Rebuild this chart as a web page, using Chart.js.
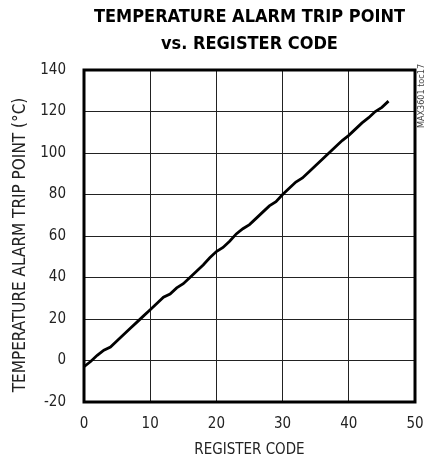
<!DOCTYPE html>
<html>
<head>
<meta charset="utf-8">
<script src="https://cdn.jsdelivr.net/npm/chart.js@4"></script>
<style>
  html, body { margin: 0; padding: 0; background: #fff; }
  #wrap { width: 426px; height: 464px; position: relative; }
</style>
</head>
<body>
<div id="wrap"><canvas id="chart-trip"></canvas></div>
<script>
// Temperature alarm trip point vs register code

const registerCodes = [
  0, 1, 2, 3, 4, 5, 6, 7, 8, 9,
  10, 11, 12, 13, 14, 15, 16, 17, 18, 19,
  20, 21, 22, 23, 24, 25, 26, 27, 28, 29,
  30, 31, 32, 33, 34, 35, 36, 37, 38, 39,
  40, 41, 42, 43, 44, 45, 46
];
const tripPoint = [
  -3, -0.5, 2.5, 5, 6.5, 9.5, 12.5, 15.5, 18.5, 21.5,
  24.5, 27.5, 30.5, 32, 35, 37, 40, 43, 46, 49.5,
  52.5, 54.5, 57.5, 61, 63.5, 65.5, 68.5, 71.5, 74.5, 76.5,
  80, 83, 86, 88, 91, 94, 97, 100, 103, 106,
  108.5, 111.5, 114.5, 117, 120, 122, 125
];
const xTicks = [0, 10, 20, 30, 40, 50];
const yTicks = [-20, 0, 20, 40, 60, 80, 100, 120, 140];
const yTitle = 'TEMPERATURE ALARM TRIP POINT (°C)';

const FONT = "'Liberation Sans Narrow', 'DejaVu Sans Condensed', sans-serif";

// heavy frame round the plot, y title, small figure code on the right edge
const framePlugin = {
  id: 'frame',
  afterDraw(chart) {
    const { ctx, chartArea: a } = chart;
    ctx.save();
    ctx.strokeStyle = '#000';
    ctx.lineWidth = 3;
    ctx.strokeRect(a.left, a.top, a.right - a.left, a.bottom - a.top);
    ctx.restore();

    ctx.save();
    ctx.translate(21, 245);
    ctx.rotate(-Math.PI / 2);
    ctx.fillStyle = '#222';
    ctx.font = "17px " + FONT;
    ctx.textAlign = 'center';
    ctx.textBaseline = 'middle';
    ctx.fillText(yTitle, 0, 0);
    ctx.restore();

    ctx.save();
    ctx.translate(421.5, 96);
    ctx.rotate(-Math.PI / 2);
    ctx.fillStyle = '#444';
    ctx.font = "9px " + FONT;
    ctx.textAlign = 'center';
    ctx.textBaseline = 'middle';
    ctx.fillText('MAX3601 toc17', 0, 0);
    ctx.restore();
  }
};

new Chart(document.getElementById('chart-trip'), {
  type: 'line',
  data: {
    datasets: [{
      data: registerCodes.map((c, i) => ({ x: c, y: tripPoint[i] })),
      borderColor: '#000',
      borderWidth: 2.8,
      pointRadius: 0,
      tension: 0,
      fill: false
    }]
  },
  options: {
    responsive: true,
    maintainAspectRatio: false,
    animation: false,
    layout: { padding: { left: 0, top: 0, bottom: 0, right: 11 } },
    plugins: {
      legend: { display: false },
      tooltip: { enabled: false },
      title: {
        display: true,
        fullSize: false,
        text: ['TEMPERATURE ALARM TRIP POINT', 'vs. REGISTER CODE'],
        color: '#000',
        font: { family: FONT, size: 18, weight: 'bold', lineHeight: 1.5 },
        padding: { top: 4, bottom: 12 }
      }
    },
    scales: {
      x: {
        type: 'linear',
        min: 0, max: 50,
        afterBuildTicks: s => { s.ticks = xTicks.map(v => ({ value: v })); },
        grid: { color: '#222', lineWidth: 1, drawTicks: true, tickLength: 13, tickColor: 'rgba(0,0,0,0)' },
        border: { display: false },
        ticks: { color: '#222', padding: 0, font: { family: FONT, size: 15 } },
        title: {
          display: true, text: 'REGISTER CODE', color: '#222',
          font: { family: FONT, size: 15 }, padding: { top: 4, bottom: 5 }
        },
        afterFit: s => { s.height = 62; }
      },
      y: {
        min: -20, max: 140,
        afterBuildTicks: s => { s.ticks = yTicks.map(v => ({ value: v })); },
        grid: { color: '#222', lineWidth: 1, drawTicks: true, tickLength: 18, tickColor: 'rgba(0,0,0,0)' },
        border: { display: false },
        ticks: { color: '#222', padding: 0, font: { family: FONT, size: 15 } },
        afterFit: s => { s.width = 84; }
      }
    }
  },
  plugins: [framePlugin]
});
</script>
</body>
</html>
